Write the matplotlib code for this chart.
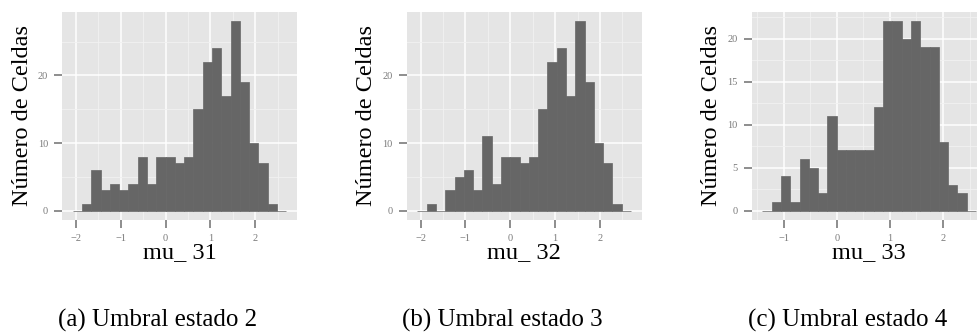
import numpy as np
import matplotlib.pyplot as plt

# conteos por intervalo del histograma (23 intervalos en cada panel)
counts_mu31 = [0, 1, 6, 3, 4, 3, 4, 8, 4, 8, 8, 7, 8, 15, 22, 24, 17, 28, 19, 10, 7, 1, 0]
counts_mu32 = [0, 1, 0, 3, 5, 6, 3, 11, 4, 8, 8, 7, 8, 15, 22, 24, 17, 28, 19, 10, 7, 1, 0]
counts_mu33 = [0, 1, 4, 1, 6, 5, 2, 11, 7, 7, 7, 7, 12, 22, 22, 20, 22, 19, 19, 8, 3, 2, 0]

# rango de los intervalos (inicio, fin)
bin_ranges = [(-2.07, 2.69), (-2.07, 2.69), (-1.40, 2.62)]

x_labels = ['mu_ 31', 'mu_ 32', 'mu_ 33']
captions = ['(a) Umbral estado 2', '(b) Umbral estado 3', '(c) Umbral estado 4']
x_ticks = [[-2, -1, 0, 1, 2], [-2, -1, 0, 1, 2], [-1, 0, 1, 2]]
y_ticks = [[0, 10, 20], [0, 10, 20], [0, 5, 10, 15, 20]]

all_counts = [counts_mu31, counts_mu32, counts_mu33]

bg = '#e5e5e5'
bar_color = '#666666'
tick_color = '#7a7a7a'
serif = 'Liberation Serif'

W, H = 978, 336
fig = plt.figure(figsize=(W / 100, H / 100), dpi=100)

lefts = [62, 406.7, 751.7]
cap_x = [157.5, 502, 847.5]

for i in range(3):
    counts = np.array(all_counts[i])
    lo, hi = bin_ranges[i]
    edges = np.linspace(lo, hi, len(counts) + 1)
    width = edges[1] - edges[0]

    ax = fig.add_axes([lefts[i] / W, 116 / H, 235 / W, 208 / H])
    ax.set_facecolor(bg)

    # rejilla mayor y menor
    xt = x_ticks[i]
    yt = y_ticks[i]
    ymax = counts.max()
    x_minor = [t + 0.5 for t in range(-3, 3)]
    y_step = yt[1] - yt[0]
    y_minor = [t + y_step / 2 for t in range(-y_step, int(ymax) + y_step, y_step)]
    ax.set_xticks(xt)
    ax.set_yticks(yt)
    ax.set_xticks(x_minor, minor=True)
    ax.set_yticks(y_minor, minor=True)
    ax.grid(which='major', color='white', linewidth=1.1)
    ax.grid(which='minor', color='#f2f2f2', linewidth=0.6)
    ax.set_axisbelow(True)

    ax.bar(edges[:-1], counts, width=width, align='edge', color=bar_color,
           edgecolor=bar_color, linewidth=0.5)

    # limites con 5% de expansion (estilo ggplot)
    pad_x = 0.05 * (hi - lo)
    ax.set_xlim(lo - pad_x, hi + pad_x)
    ax.set_ylim(-0.05 * ymax, 1.05 * ymax)

    for s in ax.spines.values():
        s.set_visible(False)
    ax.tick_params(which='major', length=6, width=1.2, color=tick_color,
                   labelcolor=tick_color, labelsize=7.5, pad=4)
    ax.tick_params(which='minor', length=0)
    for lab in ax.get_xticklabels() + ax.get_yticklabels():
        lab.set_family(serif)

    ax.set_xlabel(x_labels[i], family=serif, fontsize=17.5, va='center')
    ax.xaxis.set_label_coords(0.5, -0.158)
    ax.set_ylabel('Número de Celdas', family=serif, fontsize=17.5, va='center')
    ax.yaxis.set_label_coords(-0.17, 0.5)

    fig.text(cap_x[i] / W, (H - 320.5) / H, captions[i], family=serif,
             fontsize=18, ha='center', va='center')

fig.savefig('out.png', dpi=100)
